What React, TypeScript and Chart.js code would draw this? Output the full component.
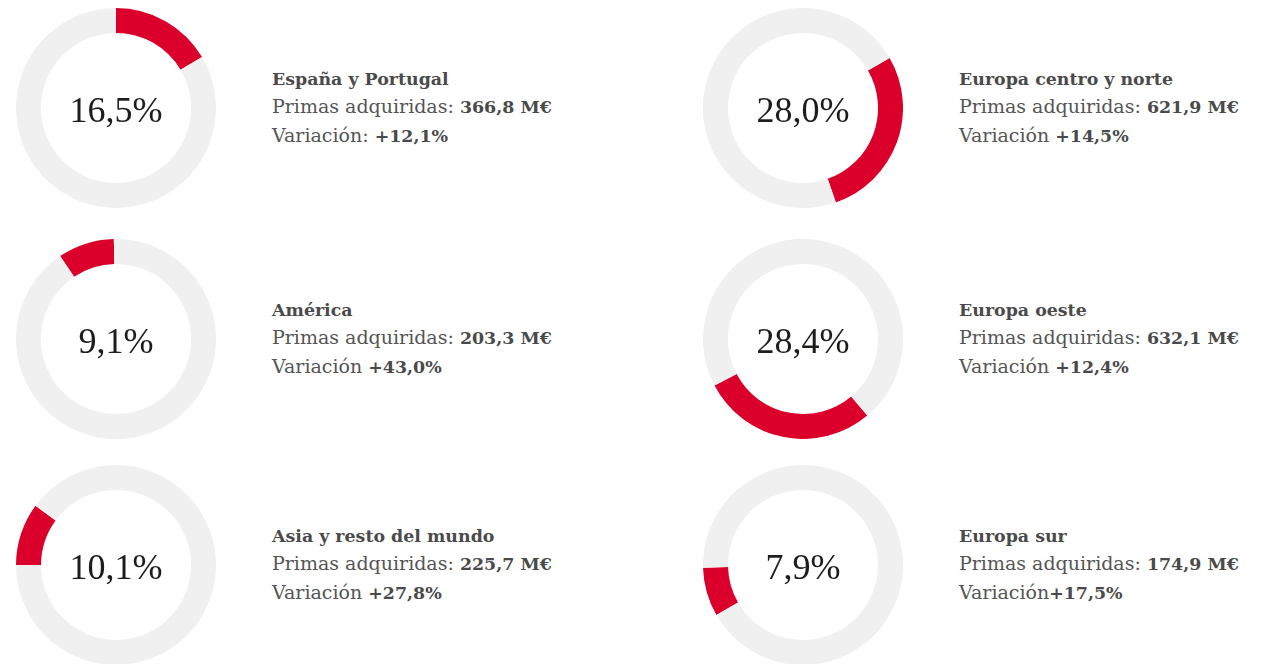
import React, { useEffect, useRef } from "react";
import { Chart, registerables } from "chart.js";

Chart.register(...registerables);

const regions = [
  "España y Portugal",
  "Europa centro y norte",
  "América",
  "Europa oeste",
  "Asia y resto del mundo",
  "Europa sur",
];
const shares = [16.5, 28.0, 9.1, 28.4, 10.1, 7.9];
const shareLabels = ["16,5%", "28,0%", "9,1%", "28,4%", "10,1%", "7,9%"];
const premiums = ["366,8 M€", "621,9 M€", "203,3 M€", "632,1 M€", "225,7 M€", "174,9 M€"];
const variationPrefixes = ["Variación: ", "Variación ", "Variación ", "Variación ", "Variación ", "Variación"];
const variations = ["+12,1%", "+14,5%", "+43,0%", "+12,4%", "+27,8%", "+17,5%"];
const rotations = [0, 60, 326, 140, 270, 240];

const RED = "#db002b";
const GRAY = "#f0f0f0";

const positions = [
  { left: 16, top: 8 },
  { left: 703, top: 8 },
  { left: 16, top: 239 },
  { left: 703, top: 239 },
  { left: 16, top: 465 },
  { left: 703, top: 465 },
];

function Ring({ value, rotation, label }: { value: number; rotation: number; label: string }) {
  const ref = useRef<HTMLCanvasElement>(null);
  useEffect(() => {
    const chart = new Chart(ref.current as HTMLCanvasElement, {
      type: "doughnut",
      data: {
        labels: ["share", "rest"],
        datasets: [
          {
            data: [value, 100 - value],
            backgroundColor: [RED, GRAY],
            borderWidth: 0,
            hoverOffset: 0,
          },
        ],
      },
      options: {
        responsive: false,
        animation: false,
        cutout: "75%",
        rotation,
        events: [],
        layout: { padding: 0 },
        plugins: { legend: { display: false }, tooltip: { enabled: false } },
      },
    });
    return () => chart.destroy();
  }, [value, rotation]);
  return (
    <div style={{ position: "relative", width: 200, height: 200, flex: "none" }}>
      <canvas ref={ref} width={200} height={200} style={{ width: 200, height: 200, display: "block" }} />
      <div
        style={{
          position: "absolute",
          inset: 0,
          display: "flex",
          alignItems: "center",
          justifyContent: "center",
          paddingTop: 4,
          boxSizing: "border-box",
          fontFamily: "'Liberation Serif', serif",
          fontSize: 36,
          color: "#1d1d1b",
        }}
      >
        {label}
      </div>
    </div>
  );
}

const boldStyle = { fontWeight: "bold" as const, color: "#4a4a4a", fontSize: 17.4 };

export default function App() {
  return (
    <div>
      {regions.map((r, i) => (
        <div
          key={r}
          style={{
            position: "absolute",
            left: positions[i].left,
            top: positions[i].top,
            height: 200,
            display: "flex",
            alignItems: "center",
          }}
        >
          <Ring value={shares[i]} rotation={rotations[i]} label={shareLabels[i]} />
          <div
            style={{
              marginLeft: 56,
              fontFamily: "'DejaVu Serif', serif",
              fontSize: 19,
              lineHeight: "27.5px",
              color: "#555",
              whiteSpace: "nowrap",
            }}
          >
            <div style={boldStyle}>{r}</div>
            <div>
              Primas adquiridas: <b style={boldStyle}>{premiums[i]}</b>
            </div>
            <div>
              {variationPrefixes[i]}
              <b style={boldStyle}>{variations[i]}</b>
            </div>
          </div>
        </div>
      ))}
    </div>
  );
}
